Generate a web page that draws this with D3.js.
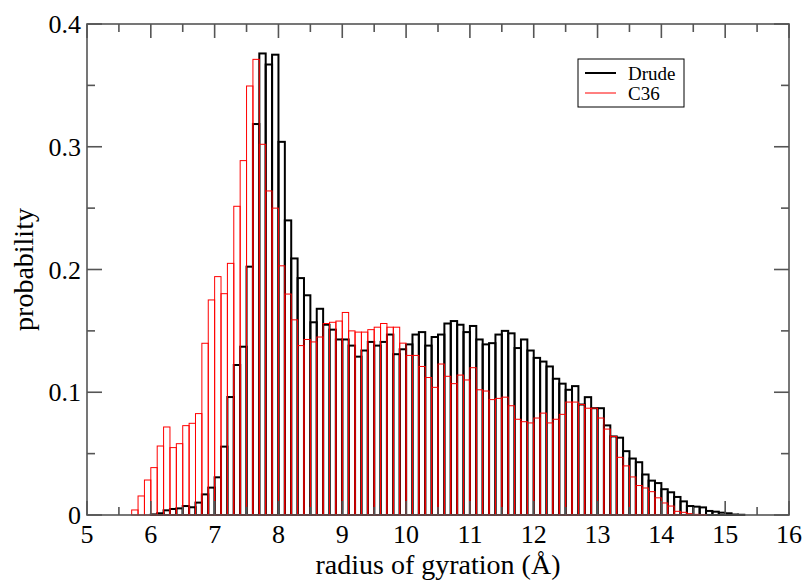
<!DOCTYPE html>
<html lang="en">
<head>
  <meta charset="UTF-8">
  <title>radius of gyration</title>
  <style>
    body { margin: 0; background: #fff; }
    text { font-family: "Liberation Serif", "DejaVu Serif", serif; fill: #000; }
  </style>
</head>
<body>
  <script src="https://cdn.jsdelivr.net/npm/d3@7"></script>
  <script>
    var width = 811;
    var height = 585;
    var margin = { top: 24, right: 22, bottom: 70, left: 87 };

    var binWidth = 0.1;   // histogram bin width

    // Drude: bins start at 5.0
    var drudeStart = 5.0;
    var drudeValues = [
      0, 0, 0, 0, 0, 0, 0, 0, 0, 0,
      0.0005, 0.0014, 0.0038, 0.0049, 0.0054, 0.0073, 0.0063, 0.0101, 0.0168, 0.0223,
      0.0307, 0.0557, 0.0961, 0.1222, 0.1371, 0.2023, 0.3185, 0.376, 0.367, 0.375,
      0.304, 0.240, 0.209, 0.193, 0.179, 0.157, 0.168, 0.155, 0.151, 0.143,
      0.143, 0.138, 0.129, 0.134, 0.141, 0.138, 0.141, 0.147, 0.131, 0.135,
      0.139, 0.147, 0.149, 0.138, 0.145, 0.147, 0.156, 0.158, 0.155, 0.149,
      0.154, 0.143, 0.139, 0.140, 0.147, 0.150, 0.148, 0.136, 0.143, 0.134,
      0.128, 0.125, 0.121, 0.111, 0.107, 0.102, 0.105, 0.090, 0.096, 0.087,
      0.087, 0.073, 0.064, 0.063, 0.052, 0.046, 0.043, 0.033, 0.028, 0.026,
      0.021, 0.0185, 0.0147, 0.0111, 0.0073, 0.0068, 0.0062, 0.0033, 0.0027, 0.0019,
      0.0014, 0.0004, 0.0002
    ];

    // C36: bins start at 5.7
    var c36Start = 5.7;
    var c36Values = [
      0.0041, 0.0155, 0.0285,
      0.0386, 0.0562, 0.0717, 0.0549, 0.0581, 0.0728, 0.0747, 0.0826, 0.1399, 0.1752,
      0.1942, 0.1803, 0.2050, 0.2515, 0.2887, 0.3495, 0.3712, 0.302, 0.264, 0.250,
      0.203, 0.180, 0.159, 0.138, 0.143, 0.141, 0.145, 0.156, 0.157, 0.158,
      0.165, 0.150, 0.149, 0.149, 0.151, 0.153, 0.156, 0.153, 0.153, 0.140,
      0.130, 0.130, 0.121, 0.112, 0.104, 0.123, 0.113, 0.107, 0.114, 0.110,
      0.120, 0.102, 0.101, 0.094, 0.095, 0.096, 0.089, 0.078, 0.076, 0.075,
      0.079, 0.083, 0.075, 0.078, 0.082, 0.092, 0.092, 0.090, 0.087, 0.087,
      0.079, 0.070, 0.064, 0.047, 0.040, 0.031, 0.024, 0.022, 0.019, 0.014,
      0.0098, 0.0073, 0.0030, 0.0022, 0.0011, 0.0005, 0.0004
    ];

    var xTicks = [5, 6, 7, 8, 9, 10, 11, 12, 13, 14, 15, 16];
    var yTicks = [0, 0.1, 0.2, 0.3, 0.4];
    var yTickLabels = ["0", "0.1", "0.2", "0.3", "0.4"];

    var x = d3.scaleLinear().domain([5, 16]).range([margin.left, width - margin.right]);
    var y = d3.scaleLinear().domain([0, 0.4]).range([height - margin.bottom, margin.top]);

    var svg = d3.select("body").append("svg")
      .attr("width", width)
      .attr("height", height);

    function toBins(start, values) {
      return values.map(function (v, i) {
        return { x0: start + i * binWidth, v: v };
      });
    }

    function drawBars(data, color, sw) {
      svg.append("g")
        .selectAll("rect")
        .data(data)
        .enter()
        .append("rect")
        .attr("x", function (d) { return x(d.x0); })
        .attr("width", function (d) { return x(d.x0 + binWidth) - x(d.x0); })
        .attr("y", function (d) { return y(d.v); })
        .attr("height", function (d) { return y(0) - y(d.v); })
        .attr("fill", "none")
        .attr("stroke", color)
        .attr("stroke-width", sw);
    }

    drawBars(toBins(drudeStart, drudeValues), "#000", 2);
    drawBars(toBins(c36Start, c36Values), "#ff0000", 1);

    // frame and ticks (inward on all four sides)
    var frameColor = "#555";
    var axisG = svg.append("g").attr("stroke", frameColor).attr("stroke-width", 1.6);
    axisG.append("rect")
      .attr("x", x(5)).attr("y", y(0.4))
      .attr("width", x(16) - x(5)).attr("height", y(0) - y(0.4))
      .attr("fill", "none");

    var xMinor = d3.range(5.5, 16, 1);
    var yMinor = [0.05, 0.15, 0.25, 0.35];

    function xTick(v, len) {
      axisG.append("line").attr("x1", x(v)).attr("x2", x(v))
        .attr("y1", y(0)).attr("y2", y(0) - len);
      axisG.append("line").attr("x1", x(v)).attr("x2", x(v))
        .attr("y1", y(0.4)).attr("y2", y(0.4) + len);
    }
    function yTick(v, len) {
      axisG.append("line").attr("y1", y(v)).attr("y2", y(v))
        .attr("x1", x(5)).attr("x2", x(5) + len);
      axisG.append("line").attr("y1", y(v)).attr("y2", y(v))
        .attr("x1", x(16)).attr("x2", x(16) - len);
    }
    xTicks.forEach(function (v) { xTick(v, 14); });
    xMinor.forEach(function (v) { xTick(v, 8); });
    yTicks.forEach(function (v) { yTick(v, 15); });
    yMinor.forEach(function (v) { yTick(v, 8); });

    // tick labels
    svg.append("g").selectAll("text")
      .data(xTicks)
      .enter()
      .append("text")
      .attr("x", function (d) { return x(d); })
      .attr("y", 543)
      .attr("text-anchor", "middle")
      .style("font-size", "26px")
      .text(function (d) { return d; });

    svg.append("g").selectAll("text")
      .data(yTicks)
      .enter()
      .append("text")
      .attr("x", 81)
      .attr("y", function (d) { return y(d) + 9; })
      .attr("text-anchor", "end")
      .style("font-size", "26px")
      .text(function (d, i) { return yTickLabels[i]; });

    // axis titles
    svg.append("text")
      .attr("x", (x(5) + x(16)) / 2)
      .attr("y", 574)
      .attr("text-anchor", "middle")
      .style("font-size", "28px")
      .text("radius of gyration (Å)");

    svg.append("text")
      .attr("transform", "translate(33," + (y(0.2)) + ") rotate(-90)")
      .attr("text-anchor", "middle")
      .style("font-size", "28px")
      .text("probability");

    // legend
    var legend = svg.append("g");
    legend.append("rect")
      .attr("x", 578).attr("y", 59).attr("width", 106).attr("height", 48)
      .attr("fill", "#fff").attr("stroke", "#000").attr("stroke-width", 1);
    var legendItems = [
      { name: "Drude", color: "#000", sw: 2 },
      { name: "C36", color: "#ff0000", sw: 1 }
    ];
    legendItems.forEach(function (d, i) {
      var ly = 73 + i * 20;
      legend.append("line")
        .attr("x1", 585).attr("x2", 616).attr("y1", ly).attr("y2", ly)
        .attr("stroke", d.color).attr("stroke-width", d.sw);
      legend.append("text")
        .attr("x", 628).attr("y", ly + 7)
        .style("font-size", "19px")
        .text(d.name);
    });
  </script>
</body>
</html>
